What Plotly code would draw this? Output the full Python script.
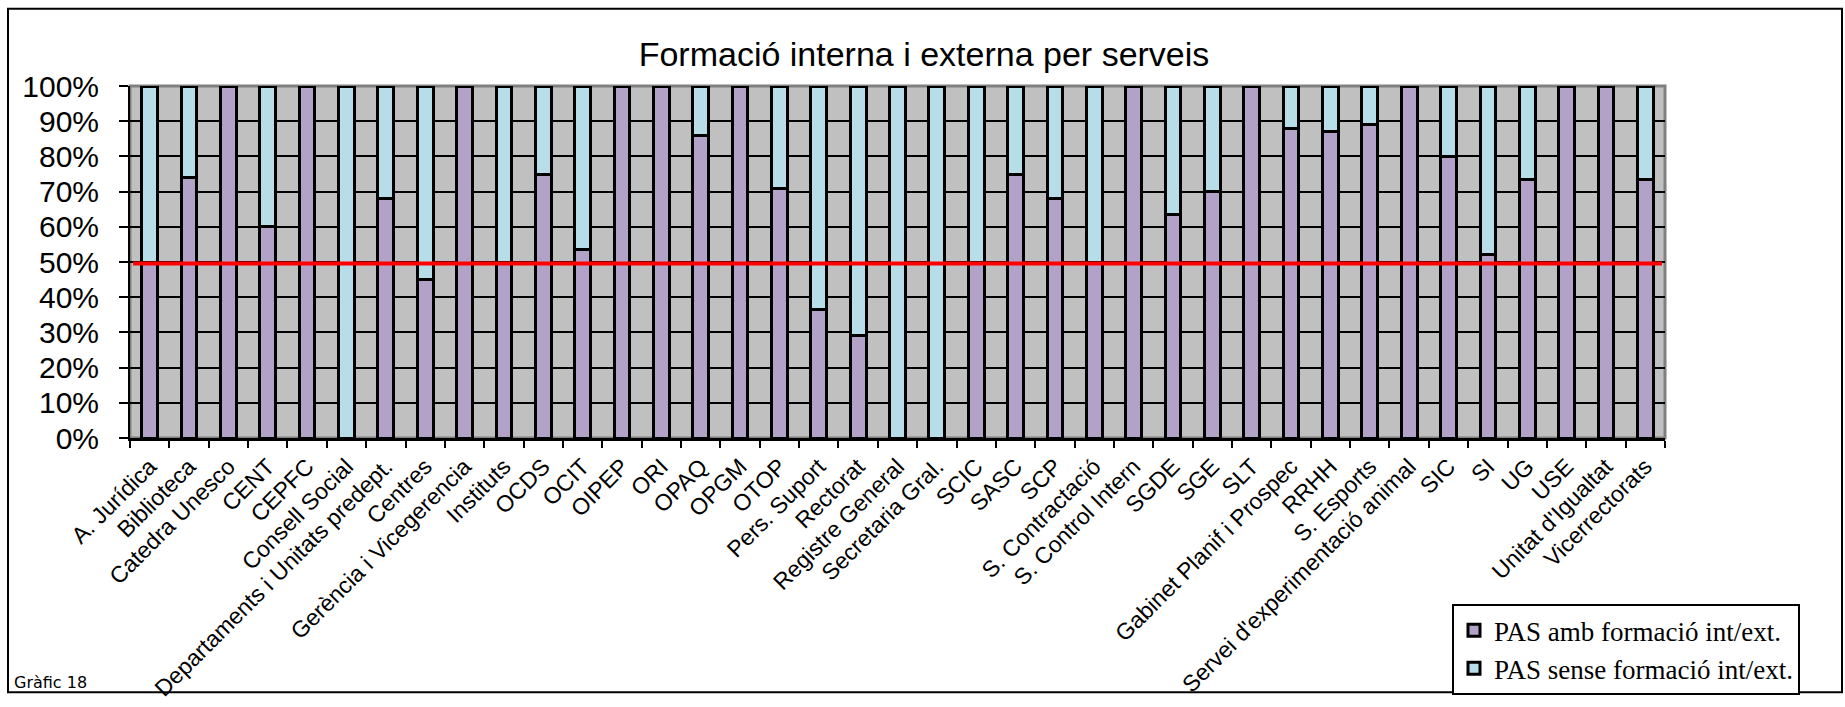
import plotly.graph_objects as go

categories = [
    "A. Jurídica", "Biblioteca", "Catedra Unesco", "CENT", "CEPFC", "Consell Social",
    "Departaments i Unitats predept.", "Centres", "Gerència i Vicegerencia", "Instituts",
    "OCDS", "OCIT", "OIPEP", "ORI", "OPAQ", "OPGM", "OTOP", "Pers. Suport", "Rectorat",
    "Registre General", "Secretaria Gral.", "SCIC", "SASC", "SCP", "S. Contractació",
    "S. Control Intern", "SGDE", "SGE", "SLT", "Gabinet Planif i Prospec", "RRHH",
    "S. Esports", "Servei d'experimentació animal", "SIC", "SI", "UG", "USE",
    "Unitat d'Igualtat", "Vicerrectorats",
]
amb_formacio = [
    50, 74, 100, 60, 100, 0, 68, 45, 100, 50,
    75, 53.5, 100, 100, 86, 100, 71, 36.5, 29,
    0, 0, 50, 75, 68, 50,
    100, 63.5, 70, 100, 88, 87,
    89, 100, 80, 52, 73.5, 100,
    100, 73.5,
]
sense_formacio = [
    50, 26, 0, 40, 0, 100, 32, 55, 0, 50,
    25, 46.5, 0, 0, 14, 0, 29, 63.5, 71,
    100, 100, 50, 25, 32, 50,
    0, 36.5, 30, 0, 12, 13,
    11, 0, 20, 48, 26.5, 0,
    0, 26.5,
]
threshold = 49.6
y_ticks = list(range(0, 101, 10))
y_tick_labels = [f"{v}%" for v in y_ticks]

W, H = 1845, 707
# plot area in page pixels
P_LEFT, P_RIGHT, P_TOP, P_BOTTOM = 130, 1665, 86, 446
ML, MR, MT, MB = P_LEFT, W - P_RIGHT, P_TOP, H - P_BOTTOM
PW, PH = W - ML - MR, H - MT - MB


def px_x(px):
    return (px - ML) / PW


def px_y(py):
    return (H - MB - py) / PH


PURPLE = "#B3A2C7"
BLUE = "#B7DEE8"

fig = go.Figure()
fig.add_trace(go.Bar(
    x=categories, y=amb_formacio, name="PAS amb formació int/ext.",
    marker=dict(color=PURPLE, line=dict(color="black", width=3)),
))
fig.add_trace(go.Bar(
    x=categories, y=sense_formacio, name="PAS sense formació int/ext.",
    marker=dict(color=BLUE, line=dict(color="black", width=3)),
))

shapes = [
    dict(type="rect", xref="paper", yref="paper", x0=0, x1=1, y0=0, y1=1,
         line=dict(color="#808080", width=3), layer="below"),
    dict(type="line", xref="paper", yref="y", x0=0.002, x1=0.998, y0=threshold, y1=threshold,
         line=dict(color="#FF0000", width=4), layer="above"),
    dict(type="rect", xref="paper", yref="paper",
         x0=px_x(8), x1=px_x(1842), y0=px_y(706), y1=px_y(7),
         line=dict(color="black", width=2), layer="below"),
]

fig.update_layout(
    width=W, height=H,
    margin=dict(l=ML, r=MR, t=MT, b=MB, pad=0),
    paper_bgcolor="white",
    plot_bgcolor="#C0C0C0",
    barmode="stack",
    bargap=0.6,
    title=dict(
        text="Formació interna i externa per serveis",
        x=924 / W, xanchor="center", xref="container",
        y=1 - 54 / H, yanchor="middle", yref="container",
        font=dict(family="Arial, Liberation Sans", size=34, color="black"),
    ),
    xaxis=dict(
        type="category",
        tickangle=-45,
        tickson="boundaries",
        ticks="outside", ticklen=7, tickwidth=2, tickcolor="black",
        showline=True, linecolor="black", linewidth=3,
        showgrid=False,
        tickfont=dict(family="Arial, Liberation Sans", size=23, color="black"),
        ticklabelstandoff=3,
        automargin=False,
    ),
    yaxis=dict(
        range=[0, 100],
        tickvals=y_ticks, ticktext=y_tick_labels,
        ticks="outside", ticklen=9, tickwidth=2, tickcolor="black",
        showline=True, linecolor="black", linewidth=2,
        showgrid=True, gridcolor="black", gridwidth=2,
        zeroline=False,
        tickfont=dict(family="Arial, Liberation Sans", size=30, color="black"),
        ticklabelstandoff=14,
        automargin=False,
    ),
    legend=dict(
        x=px_x(1452), y=px_y(616), xanchor="left", yanchor="top",
        bgcolor="white", bordercolor="black", borderwidth=2,
        font=dict(family="Liberation Serif, Times New Roman", size=27, color="black"),
        traceorder="normal",
        tracegroupgap=0,
        itemwidth=30,
    ),
    shapes=shapes,
    annotations=[
        dict(text="Gràfic 18", xref="paper", yref="paper",
             x=px_x(12), y=px_y(696), xanchor="left", yanchor="middle",
             showarrow=False,
             font=dict(family="Verdana, DejaVu Sans", size=16, color="black")),
    ],
    showlegend=True,
)

# remove the default page margin so the figure fills the window exactly
fig.write_html(
    "out.html",
    config={"displayModeBar": False},
    post_script="document.body.style.margin='0';document.body.style.overflow='hidden';",
)
